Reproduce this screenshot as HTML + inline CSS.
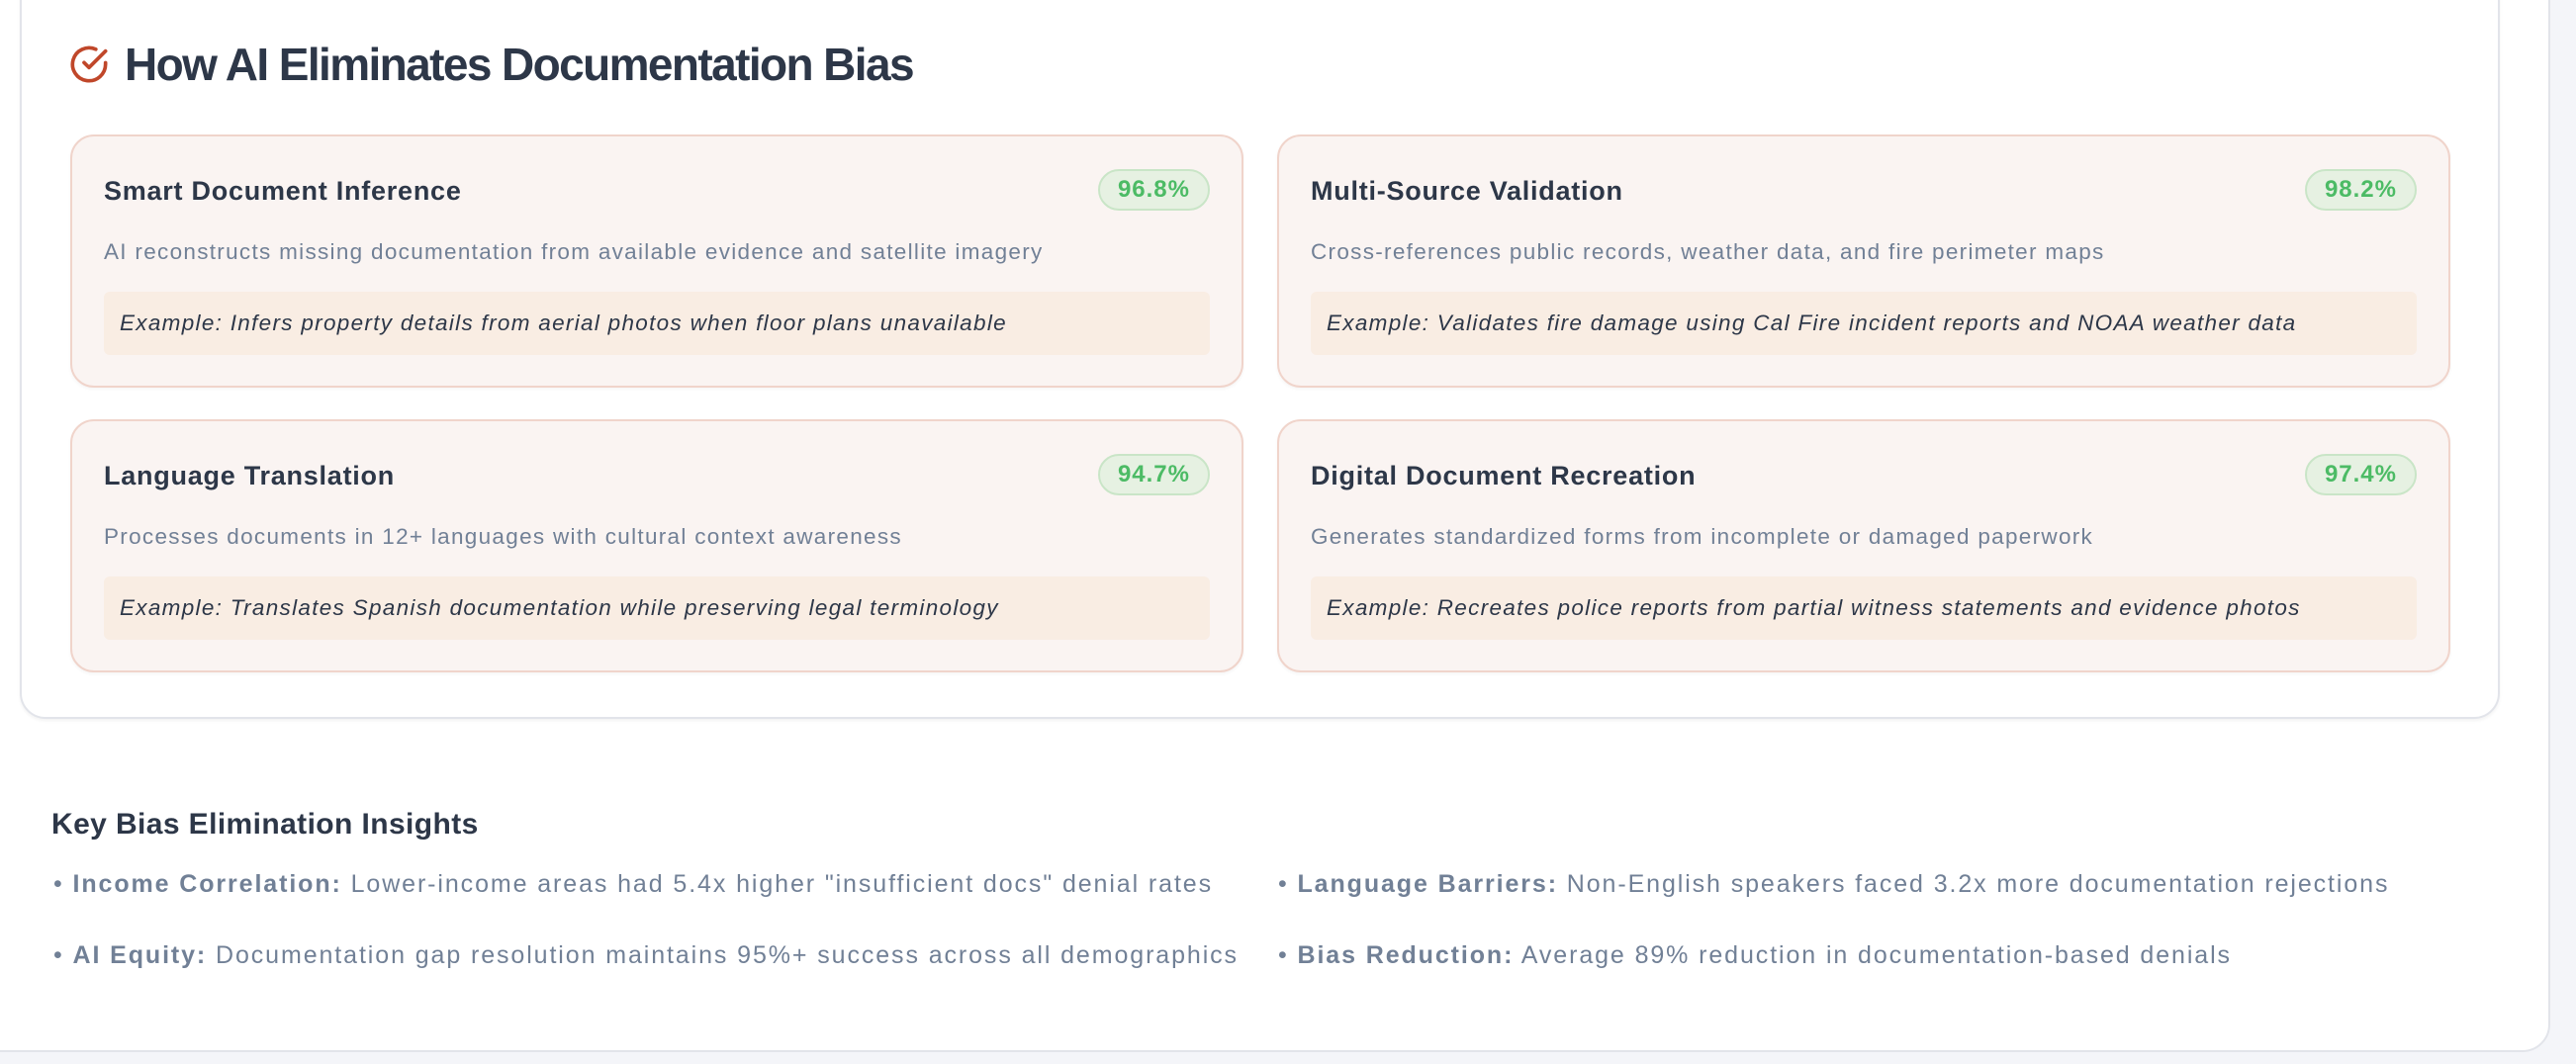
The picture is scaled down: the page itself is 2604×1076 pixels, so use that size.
<!DOCTYPE html>
<html><head><meta charset="utf-8"><style>
*{box-sizing:border-box;margin:0;padding:0}
body{width:2604px;height:1076px;background:#f4f5f9;font-family:"Liberation Sans",sans-serif;position:relative;overflow:hidden}
.outer{position:absolute;left:-30px;top:-40px;width:2608px;height:1104px;background:#fff;border:2px solid #e2e4ea;border-radius:28px}
.inner{position:absolute;left:20px;top:-40px;width:2507px;height:767px;background:#fff;border:2px solid #e2e4ea;border-radius:26px;box-shadow:0 2px 3px rgba(0,0,0,.05)}
.title{position:absolute;left:126px;top:38px;font-size:46px;font-weight:bold;color:#2d3748;letter-spacing:-1.6px}
.icon{position:absolute;left:70px;top:45px}
.card{position:absolute;width:1186px;height:256px;background:#faf4f2;border:2px solid #f0d4cb;border-radius:24px;box-shadow:0 2px 3px rgba(0,0,0,.04)}
.card h3{position:absolute;left:32px;top:40px;font-size:27px;font-weight:bold;color:#2d3748;letter-spacing:0.75px}
.badge{position:absolute;right:32px;top:33px;height:42px;padding:0 18px;border-radius:21px;background:#e6f1e2;border:2px solid #c9e5c7;color:#4cbb65;font-size:24px;font-weight:bold;line-height:38px;letter-spacing:1px}
.desc{position:absolute;left:32px;top:104px;font-size:22.5px;color:#718096;letter-spacing:1.3px;white-space:nowrap}
.ex{position:absolute;left:32px;right:32px;top:157px;height:64px;background:#f9ede3;border-radius:6px;font-size:22.5px;font-style:italic;color:#2d3748;padding-left:16px;line-height:64px;letter-spacing:1.3px;white-space:nowrap}
.kh{position:absolute;left:52px;top:817px;font-size:30px;font-weight:bold;color:#2d3748;letter-spacing:0.4px}
.it{position:absolute;font-size:25px;color:#718096;white-space:nowrap;letter-spacing:1.9px}
.it b{color:#718096}
</style></head><body>
<div class="outer"></div>
<div class="inner"></div>
<svg class="icon" width="40" height="40" viewBox="0 0 24 24" fill="none" stroke="#c0472a" stroke-width="2.2" stroke-linecap="round" stroke-linejoin="round"><path d="M22 11.1V12a10 10 0 1 1-5.9-9.1"/><polyline points="22 4 12 14 9 11"/></svg>
<div class="title">How AI Eliminates Documentation Bias</div>

<div class="card" style="left:71px;top:136px"><h3>Smart Document Inference</h3><div class="badge">96.8%</div><div class="desc">AI reconstructs missing documentation from available evidence and satellite imagery</div><div class="ex">Example: Infers property details from aerial photos when floor plans unavailable</div></div>
<div class="card" style="left:1291px;top:136px"><h3>Multi-Source Validation</h3><div class="badge">98.2%</div><div class="desc">Cross-references public records, weather data, and fire perimeter maps</div><div class="ex">Example: Validates fire damage using Cal Fire incident reports and NOAA weather data</div></div>
<div class="card" style="left:71px;top:424px"><h3>Language Translation</h3><div class="badge">94.7%</div><div class="desc">Processes documents in 12+ languages with cultural context awareness</div><div class="ex">Example: Translates Spanish documentation while preserving legal terminology</div></div>
<div class="card" style="left:1291px;top:424px"><h3>Digital Document Recreation</h3><div class="badge">97.4%</div><div class="desc">Generates standardized forms from incomplete or damaged paperwork</div><div class="ex">Example: Recreates police reports from partial witness statements and evidence photos</div></div>

<div class="kh">Key Bias Elimination Insights</div>
<div class="it" style="left:54px;top:880px">• <b>Income Correlation:</b> Lower-income areas had 5.4x higher "insufficient docs" denial rates</div>
<div class="it" style="left:1292px;top:880px">• <b>Language Barriers:</b> Non-English speakers faced 3.2x more documentation rejections</div>
<div class="it" style="left:54px;top:952px">• <b>AI Equity:</b> Documentation gap resolution maintains 95%+ success across all demographics</div>
<div class="it" style="left:1292px;top:952px">• <b>Bias Reduction:</b> Average 89% reduction in documentation-based denials</div>
</body></html>
